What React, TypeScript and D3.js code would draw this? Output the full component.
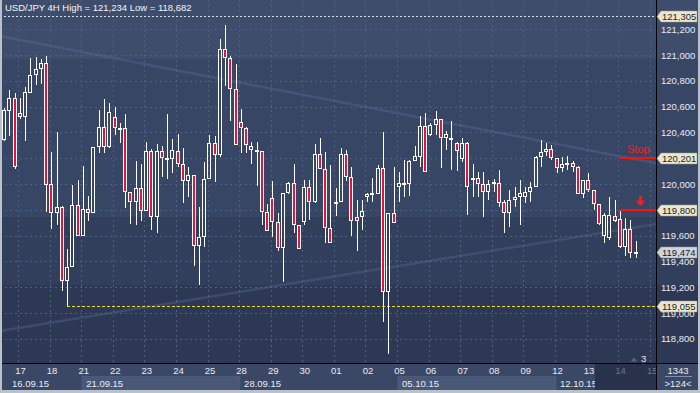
import React, { useRef, useEffect } from 'react'
import * as d3 from 'd3'

// 4H candles: [open, high, low, close]
const ohlc: [number, number, number, number][] = [
  [120341, 120590, 120330, 120574],
  [120568, 120729, 120372, 120664],
  [120664, 120703, 120120, 120129],
  [120548, 120664, 120504, 120522],
  [120522, 120754, 120336, 120711],
  [120708, 120979, 120703, 120845],
  [120843, 120987, 120767, 120889],
  [120889, 120969, 120773, 120935],
  [120935, 120995, 119785, 119992],
  [119997, 120245, 119649, 119773],
  [119773, 120405, 119682, 119824],
  [119824, 119830, 119173, 119248],
  [119248, 119494, 119055, 119359],
  [119359, 119992, 119359, 119835],
  [119835, 120031, 119597, 119597],
  [119597, 120140, 119597, 119804],
  [119804, 119907, 119716, 119773],
  [119773, 120285, 119773, 120285],
  [120285, 120574, 120238, 120440],
  [120440, 120659, 120238, 120289],
  [120289, 120626, 120281, 120556],
  [120517, 120595, 120380, 120432],
  [120432, 120470, 120315, 120430],
  [120432, 120540, 119812, 119936],
  [119936, 119936, 119690, 119863],
  [119863, 120178, 119682, 119967],
  [119967, 120155, 119716, 119793],
  [119793, 120326, 119793, 120256],
  [120256, 120271, 119643, 119747],
  [119747, 120308, 119618, 120256],
  [120256, 120295, 120057, 120199],
  [120199, 120540, 120039, 120196],
  [120191, 120349, 120083, 120264],
  [120256, 120388, 120134, 120153],
  [120153, 120282, 119850, 120026],
  [120026, 120134, 119902, 120070],
  [120070, 120070, 119367, 119522],
  [119522, 119824, 119217, 119587],
  [119587, 120168, 119514, 120036],
  [120036, 120380, 120036, 120315],
  [120315, 120372, 120018, 120225],
  [120225, 121124, 120212, 121044],
  [121044, 121234, 120762, 120974],
  [120974, 120995, 120491, 120734],
  [120734, 120928, 120300, 120300],
  [120478, 120581, 120243, 120432],
  [120432, 120440, 120243, 120302],
  [120297, 120328, 120155, 120264],
  [120264, 120323, 119987, 120256],
  [120256, 120256, 119682, 119785],
  [119785, 119845, 119638, 119638],
  [119889, 120026, 119592, 119703],
  [119703, 119773, 119481, 119506],
  [119506, 119928, 119243, 119928],
  [119928, 120018, 119922, 120010],
  [120010, 120153, 119618, 119682],
  [119682, 119682, 119494, 119494],
  [119708, 120031, 119682, 119974],
  [119974, 120031, 119721, 119863],
  [119863, 120310, 119855, 120230],
  [120230, 120354, 120114, 120114],
  [120114, 120251, 119545, 119656],
  [119656, 120147, 119545, 119545],
  [119863, 119967, 119752, 119860],
  [119863, 120277, 119863, 120230],
  [120230, 120264, 120026, 120057],
  [120057, 120134, 119597, 119716],
  [119742, 119876, 119481, 119716],
  [119742, 119876, 119643, 119793],
  [119897, 119933, 119863, 119922],
  [119926, 120044, 119863, 119930],
  [119922, 120147, 119922, 120121],
  [120121, 120401, 118933, 119165],
  [119165, 119778, 118682, 119778],
  [119778, 120134, 119700, 119700],
  [119974, 120095, 119863, 120005],
  [120000, 120186, 119902, 120010],
  [119997, 120186, 119907, 120181],
  [120181, 120297, 120181, 120217],
  [120212, 120527, 120134, 120452],
  [120452, 120548, 120096, 120096],
  [120380, 120470, 120375, 120457],
  [120457, 120566, 120380, 120501],
  [120501, 120501, 120121, 120354],
  [120354, 120411, 120264, 120385],
  [120354, 120491, 120109, 120357],
  [120315, 120328, 120103, 120258],
  [120191, 120354, 120173, 120315],
  [120315, 120328, 119760, 119974],
  [120049, 120155, 119897, 120047],
  [120044, 120096, 119902, 120000],
  [120000, 120096, 119742, 119940],
  [119940, 120031, 119876, 120000],
  [120018, 120036, 119940, 120000],
  [120010, 120109, 119824, 119855],
  [119858, 119876, 119618, 119773],
  [119773, 119953, 119669, 119876],
  [119876, 119979, 119824, 119902],
  [119902, 120031, 119682, 119928],
  [119897, 119979, 119850, 119935],
  [119935, 120018, 119863, 119974],
  [119974, 120217, 119974, 120212],
  [120207, 120341, 120134, 120245],
  [120245, 120315, 120217, 120269],
  [120269, 120302, 120186, 120199],
  [120199, 120199, 120088, 120122],
  [120122, 120212, 120096, 120155],
  [120160, 120217, 120109, 120147],
  [120160, 120181, 120096, 120129],
  [120129, 120140, 119920, 119920],
  [119920, 120031, 119889, 120031],
  [120031, 120083, 119940, 119953],
  [119953, 119953, 119798, 119843],
  [119843, 119843, 119682, 119688],
  [119600, 119773, 119546, 119760],
  [119584, 119897, 119566, 119760],
  [119754, 119876, 119708, 119713],
  [119729, 119798, 119501, 119509],
  [119509, 119734, 119444, 119651],
  [119649, 119721, 119424, 119463],
  [119470, 119560, 119429, 119474],
]

const dayLabels = ['17', '18', '21', '22', '23', '24', '25', '28', '29', '30', '01', '02', '05', '06', '07', '08', '09', '12', '13', '14', '15']
const weekLabels = ['16.09.15', '21.09.15', '28.09.15', '05.10.15', '12.10.15']
const weekStartDay = [-1, 2, 7, 12, 17]
const priceTicks = [118800, 119000, 119200, 119400, 119600, 119800, 120000, 120200, 120400, 120600, 120800, 121000, 121200]

const title = 'USD/JPY 4H High = 121,234 Low = 118,682'
const rangeHigh = 121305
const supportLevel = 119055
const stopLevel = 120201
const entryLevel = 119800
const lastPrice = 119474

// trend lines as two anchors [candle index, price], extended across the plot
const trendLines: [number, number][][] = [
  [[0, 121141], [120, 120191]],
  [[0, 118866], [120, 119664]],
]

const W = 700
const H = 393
const plotRight = 656
const plotBottom = 363
const FONT = '"Liberation Sans", Arial, sans-serif'

const Chart: React.FC = () => {
  const svgRef = useRef<SVGSVGElement>(null)

  useEffect(() => {
    const svg = d3.select(svgRef.current!)
    svg.selectAll('*').remove()

    const x = d3.scaleLinear().domain([0, ohlc.length - 1]).range([4, 635.7])
    const y = d3.scaleLinear().domain([118800, 121200]).range([338.8, 29.2])
    const dayX = (k: number) => x(2.85 + 6 * k)
    const fmt = d3.format(',')

    // stepped background
    const defs = svg.append('defs')
    const grad = defs
      .append('linearGradient')
      .attr('id', 'bg')
      .attr('x1', 0).attr('y1', 0).attr('x2', 0).attr('y2', 1)
    const bands: [number, string][] = [
      [0, '#3e4d6b'], [59, '#3e4d6b'], [59, '#384665'], [217, '#384665'],
      [217, '#323f5c'], [285, '#323f5c'], [285, '#2d3954'], [363, '#2d3954'],
    ]
    bands.forEach(([p, c]) =>
      grad.append('stop').attr('offset', p / plotBottom).attr('stop-color', c)
    )
    defs.append('clipPath').attr('id', 'plot')
      .append('rect').attr('x', 0).attr('y', 0).attr('width', plotRight).attr('height', plotBottom)

    svg.append('rect').attr('width', W).attr('height', plotBottom).attr('fill', 'url(#bg)')
    svg.append('rect').attr('y', plotBottom).attr('width', W).attr('height', H - plotBottom).attr('fill', '#3a4866')

    const g = svg.append('g').attr('clip-path', 'url(#plot)')

    // grid
    priceTicks.forEach((v) => {
      const yy = Math.round(y(v)) + 0.5
      g.append('line').attr('x1', 0).attr('x2', plotRight).attr('y1', yy).attr('y2', yy)
        .attr('stroke', '#4f5f82').attr('stroke-dasharray', '2,3')
    })
    dayLabels.forEach((_, k) => {
      const xx = Math.round(dayX(k)) - 0.5
      g.append('line').attr('x1', xx).attr('x2', xx).attr('y1', 0).attr('y2', plotBottom)
        .attr('stroke', '#4f5f82').attr('stroke-dasharray', '2,3')
    })

    // trend lines
    trendLines.forEach(([a, b]) => {
      const x1 = x(a[0]), y1 = y(a[1]), x2 = x(b[0]), y2 = y(b[1])
      const k = (y2 - y1) / (x2 - x1)
      g.append('line')
        .attr('x1', 0).attr('y1', y1 + (0 - x1) * k)
        .attr('x2', plotRight).attr('y2', y1 + (plotRight - x1) * k)
        .attr('stroke', '#5f74a0').attr('stroke-opacity', 0.32).attr('stroke-width', 2.5)
    })

    // high reference and support level
    const yHigh = Math.round(y(rangeHigh)) + 0.5
    g.append('line').attr('x1', 0).attr('x2', plotRight).attr('y1', yHigh).attr('y2', yHigh)
      .attr('stroke', '#d8dee8').attr('stroke-dasharray', '2,2')
    const lowIdx = ohlc.findIndex((d) => d[2] === supportLevel)
    const ySup = Math.round(y(supportLevel)) + 0.5
    g.append('line').attr('x1', Math.round(x(lowIdx))).attr('x2', plotRight).attr('y1', ySup).attr('y2', ySup)
      .attr('stroke', '#f0e010').attr('stroke-dasharray', '3,2')

    // candles
    ohlc.forEach(([o, h, l, c], i) => {
      const cx = Math.round(x(i))
      const top = Math.round(y(Math.max(o, c)))
      const bot = Math.round(y(Math.min(o, c)))
      const wx = cx + 0.5
      g.append('line').attr('x1', wx).attr('x2', wx).attr('y1', Math.round(y(h))).attr('y2', top)
        .attr('stroke', '#ffffff')
      g.append('line').attr('x1', wx).attr('x2', wx).attr('y1', bot).attr('y2', Math.round(y(l)))
        .attr('stroke', '#ffffff')
      g.append('rect')
        .attr('x', cx - 1.5)
        .attr('y', top + 0.5)
        .attr('width', 3)
        .attr('height', Math.max(1, bot - top - 1))
        .attr('fill', c < o ? '#e3133c' : 'none')
        .attr('stroke', '#ffffff')
    })

    // stop / entry marks
    ;[stopLevel, entryLevel].forEach((v) => {
      const yy = Math.round(y(v))
      g.append('rect').attr('x', 619).attr('y', yy - 1).attr('width', plotRight - 619).attr('height', 2)
        .attr('fill', '#ff1010')
    })
    svg.append('text').attr('x', 627).attr('y', y(stopLevel) - 5)
      .style('font-family', FONT).style('font-size', '11px').attr('fill', '#ff1a1a').text('Stop')
    const ya = Math.round(y(entryLevel))
    svg.append('path')
      .attr('d', `M639.5,${ya - 14}H641.5V${ya - 9}H644.5L640.5,${ya - 4}L636.5,${ya - 9}H639.5Z`)
      .attr('fill', '#ff1a1a').attr('stroke', '#ff1a1a').attr('stroke-width', 0.8)

    // bottom axis: week boxes, day labels, week labels
    weekStartDay.forEach((d, i) => {
      const x0 = Math.max(2, dayX(d))
      const x1 = i < weekStartDay.length - 1 ? dayX(weekStartDay[i + 1]) : plotRight
      if (i % 2 === 1) {
        svg.append('rect').attr('x', Math.round(x0)).attr('y', 376.5)
          .attr('width', Math.round(x1 - x0)).attr('height', 13.5)
          .attr('fill', '#4a5877').attr('stroke', '#56648a').attr('stroke-width', 0.5)
      }
    })
    weekLabels.forEach((lab, i) => {
      svg.append('text').attr('x', Math.max(8, dayX(weekStartDay[i])) + 4).attr('y', 387)
        .style('font-family', FONT).style('font-size', '9.5px').attr('fill', '#e8ecf4').text(lab)
    })
    // future zone
    svg.append('rect').attr('x', 595).attr('y', plotBottom).attr('width', plotRight - 595).attr('height', 27)
      .attr('fill', '#28324b')

    const dayScale = d3.scaleLinear().domain([0, dayLabels.length - 1])
      .range([dayX(0) + 1, dayX(dayLabels.length - 1) + 1])
    const xAxis = svg.append('g')
      .attr('transform', `translate(0,${plotBottom + 2})`)
      .call(
        d3.axisBottom(dayScale)
          .tickValues(d3.range(dayLabels.length))
          .tickSize(0)
          .tickPadding(2)
          .tickFormat((i) => dayLabels[i as number])
      )
    xAxis.select('.domain').remove()
    xAxis.selectAll('text')
      .style('font-family', FONT).style('font-size', '9.5px')
      .attr('fill', (_, i) => (i >= 19 ? '#6b7791' : '#e8ecf4'))

    // right price axis
    const yAxis = svg.append('g')
      .attr('transform', `translate(${plotRight},0)`)
      .call(d3.axisRight(y).tickValues(priceTicks).tickSize(0).tickPadding(5).tickFormat((v) => fmt(v as number)))
    yAxis.select('.domain').remove()
    yAxis.selectAll('text').style('font-family', FONT).style('font-size', '9.5px').attr('fill', '#e8ecf4')

    // frame lines
    svg.append('line').attr('x1', plotRight + 0.5).attr('x2', plotRight + 0.5).attr('y1', 0).attr('y2', 390)
      .attr('stroke', '#000')
    svg.append('line').attr('x1', 0).attr('x2', W).attr('y1', plotBottom + 0.5).attr('y2', plotBottom + 0.5)
      .attr('stroke', '#000')

    // price tags
    const tags: [number, string][] = [
      [rangeHigh, '#ebe7cf'],
      [stopLevel, '#ebe7cf'],
      [entryLevel, '#ebe7cf'],
      [lastPrice, '#cfd4de'],
      [supportLevel, '#ebe7cf'],
    ]
    tags.forEach(([v, fill]) => {
      const yc = Math.round(y(v)) + 0.5
      svg.append('path')
        .attr('d', `M${plotRight + 1},${yc}L${plotRight + 5},${yc - 5.5}H697V${yc + 5.5}H${plotRight + 5}Z`)
        .attr('fill', fill).attr('stroke', '#9a9a8a').attr('stroke-width', 0.5)
      svg.append('text').attr('x', 662).attr('y', yc + 3.5)
        .style('font-family', FONT).style('font-size', '9.5px').attr('fill', '#1e1e1e').text(fmt(v))
    })

    // title
    svg.append('text').attr('x', 5).attr('y', 11)
      .style('font-family', FONT).style('font-size', '9.5px').attr('fill', '#f4f6fa').text(title)

    // bar counter marker
    svg.append('path').attr('d', 'M630.5,361.5L634,357.5L637.5,361.5Z').attr('fill', '#56627c')
    svg.append('text').attr('x', 641).attr('y', 362)
      .style('font-family', FONT).style('font-size', '9.5px').attr('fill', '#e8ecf4').text('3')

    // bottom-right box
    svg.append('text').attr('x', 678).attr('y', 374).attr('text-anchor', 'middle')
      .style('font-family', FONT).style('font-size', '9.5px').attr('fill', '#e8ecf4').text('1343')
    svg.append('line').attr('x1', 665).attr('x2', 692).attr('y1', 376.5).attr('y2', 376.5)
      .attr('stroke', '#8090b0')
    svg.append('text').attr('x', 678).attr('y', 387).attr('text-anchor', 'middle')
      .style('font-family', FONT).style('font-size', '9.5px').attr('fill', '#e8ecf4').text('>124<')

    // window borders
    svg.append('rect').attr('x', 0).attr('y', 0).attr('width', 2).attr('height', H).attr('fill', '#b9c1cd')
    svg.append('rect').attr('x', 698).attr('y', 0).attr('width', 2).attr('height', H).attr('fill', '#b9c1cd')
    svg.append('rect').attr('x', 0).attr('y', 390).attr('width', W).attr('height', 3).attr('fill', '#b9c1cd')
  }, [])

  return (
    <svg
      ref={svgRef}
      width={W}
      height={H}
      viewBox={`0 0 ${W} ${H}`}
      style={{ position: 'fixed', left: 0, top: 0, display: 'block' }}
    />
  )
}

export default function App() {
  return <Chart />
}
